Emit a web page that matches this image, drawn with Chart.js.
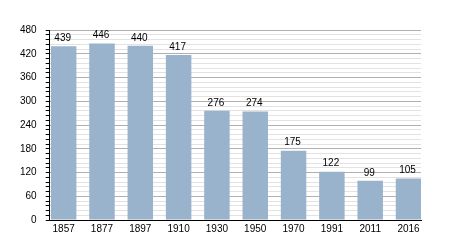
<!DOCTYPE html>
<html>
<head>
<meta charset="utf-8">
<script src="https://cdn.jsdelivr.net/npm/chart.js@4"></script>
<style>
  html, body { margin: 0; padding: 0; background: #fff; }
  #wrap { width: 450px; height: 250px; }
</style>
</head>
<body>
<div id="wrap"><canvas id="popChart"></canvas></div>
<script>
  const years = ["1857", "1877", "1897", "1910", "1930", "1950", "1970", "1991", "2011", "2016"];
  const population = [439, 446, 440, 417, 276, 274, 175, 122, 99, 105];
  const yMax = 480;
  const yStep = 12;      // minor grid step
  const yLabelStep = 60; // labelled step

  // value labels above each bar
  const barValueLabels = {
    id: "barValueLabels",
    afterDatasetsDraw(chart) {
      const ctx = chart.ctx;
      const meta = chart.getDatasetMeta(0);
      ctx.save();
      ctx.font = "10px 'Liberation Sans', Arial, sans-serif";
      ctx.fillStyle = "#000";
      ctx.textAlign = "center";
      ctx.textBaseline = "bottom";
      meta.data.forEach((bar, i) => {
        ctx.fillText(String(population[i]), bar.x - 1, bar.y - 3);
      });
      ctx.restore();
    }
  };

  const ctxEl = document.getElementById("popChart");
  new Chart(ctxEl.getContext("2d"), {
    type: "bar",
    data: {
      datasets: [{
        label: "Population",
        data: population.map((v, i) => ({ x: i, y: v })),
        backgroundColor: "#99b3cc",
        borderWidth: 0,
        categoryPercentage: 1,
        barPercentage: 0.665
      }]
    },
    options: {
      responsive: true,
      maintainAspectRatio: false,
      animation: false,
      layout: { padding: { left: 11, right: 29, top: 30, bottom: 12 } },
      plugins: {
        legend: { display: false },
        tooltip: { enabled: false }
      },
      scales: {
        x: {
          type: "linear",
          offset: false,
          min: -0.365,
          max: 9.326,
          afterBuildTicks: scale => {
            scale.ticks = years.map((y, i) => ({ value: i }));
          },
          grid: { display: false, drawTicks: false },
          border: { display: true, color: "#000", width: 1 },
          ticks: {
            padding: 3,
            color: "#000",
            font: { family: "'Liberation Sans', Arial, sans-serif", size: 10 },
            callback: v => years[v]
          }
        },
        y: {
          min: 0,
          max: yMax,
          grid: {
            color: c => (c.tick && c.tick.value % yLabelStep === 0) ? "#b0b0b0" : "#e2e2e2",
            tickColor: "#000",
            tickLength: 4
          },
          border: { display: true, color: "#000", width: 1 },
          ticks: {
            stepSize: yStep,
            autoSkip: false,
            padding: 9,
            color: "#000",
            font: { family: "'Liberation Sans', Arial, sans-serif", size: 10 },
            callback: v => (v % yLabelStep === 0 ? String(v) : "")
          }
        }
      }
    },
    plugins: [barValueLabels]
  });
</script>
</body>
</html>
